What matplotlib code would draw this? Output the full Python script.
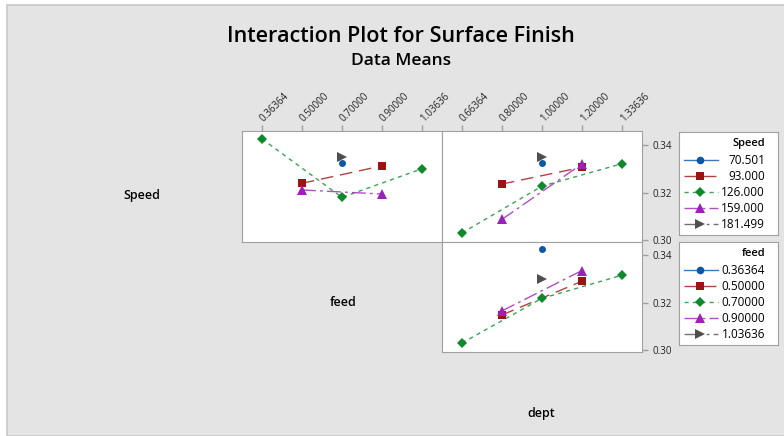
import numpy as np
import matplotlib.pyplot as plt
from matplotlib.patches import Rectangle

plt.rcParams["font.family"] = ["Open Sans", "DejaVu Sans"]

# factor levels
speed_levels = ["70.501", "93.000", "126.000", "159.000", "181.499"]
feed_levels = ["0.36364", "0.50000", "0.70000", "0.90000", "1.03636"]
dept_levels = ["0.66364", "0.80000", "1.00000", "1.20000", "1.33636"]

nan = np.nan
# mean surface finish: rows = trace factor level, cols = x factor level
means_speed_by_feed = np.array([
    [nan, nan, 0.3323, nan, nan],
    [nan, 0.3239, nan, 0.3312, nan],
    [0.3425, nan, 0.3180, nan, 0.3300],
    [nan, 0.3211, nan, 0.3194, nan],
    [nan, nan, 0.3348, nan, nan],
])
means_speed_by_dept = np.array([
    [nan, nan, 0.3323, nan, nan],
    [nan, 0.3236, nan, 0.3306, nan],
    [0.3031, nan, 0.3227, nan, 0.3321],
    [nan, 0.3088, nan, 0.3320, nan],
    [nan, nan, 0.3348, nan, nan],
])
means_feed_by_dept = np.array([
    [nan, nan, 0.3425, nan, nan],
    [nan, 0.3149, nan, 0.3291, nan],
    [0.3031, nan, 0.3219, nan, 0.3316],
    [nan, 0.3166, nan, 0.3336, nan],
    [nan, nan, 0.3301, nan, nan],
])

colors = ["#0b56a8", "#9a1414", "#0e8a2c", "#9b22b8", "#4f4f4f"]
markers = ["o", "s", "D", "^", ">"]
msizes = [5, 5.5, 5, 6.5, 6.5]
styles = ["-", (0, (9, 5)), (0, (3, 3)), (0, (10, 3, 2, 3)), (0, (8, 3, 2, 3, 2, 3))]
frame_gray = "#a0a0a0"

W, H = 784, 436
fig = plt.figure(figsize=(W / 100, H / 100), dpi=100)
fig.patch.set_facecolor("white")
fig.add_artist(Rectangle((7 / W, 0), 1, 1 - 5 / H, transform=fig.transFigure,
                         facecolor="#e4e4e4", edgecolor="#c8c8c8", lw=1.2, zorder=-10))


def px_axes(x0, y0, x1, y1):
    return fig.add_axes([x0 / W, 1 - y1 / H, (x1 - x0) / W, (y1 - y0) / H])


def draw_panel(ax, means):
    for i, row in enumerate(means):
        pos = np.arange(len(row))
        ok = ~np.isnan(row)
        ax.plot(pos[ok], row[ok], color=colors[i], ls=styles[i], lw=1.0, alpha=0.8)
        ax.plot(pos[ok], row[ok], ls="none", color=colors[i],
                marker=markers[i], ms=msizes[i], markeredgewidth=0)
    ax.set_xlim(-0.5, 4.5)
    ax.set_ylim(0.2993, 0.3456)
    for s in ax.spines.values():
        s.set_color(frame_gray)
    ax.tick_params(colors=frame_gray, labelcolor="#222222", labelsize=7, length=4, width=1)


ax_tl = px_axes(242, 131.5, 442, 242)
ax_tr = px_axes(442, 131.5, 642, 242)
ax_br = px_axes(442, 242, 642, 352)

draw_panel(ax_tl, means_speed_by_feed)
draw_panel(ax_tr, means_speed_by_dept)
draw_panel(ax_br, means_feed_by_dept)

for ax, labels in [(ax_tl, feed_levels), (ax_tr, dept_levels)]:
    ax.xaxis.tick_top()
    ax.set_xticks(range(5))
    ax.set_xticklabels(labels, rotation=45, ha="left", va="center", rotation_mode="anchor")
    ax.tick_params(axis="x", pad=4)
ax_tl.set_yticks([])
ax_br.set_xticks([])
yt = [0.30, 0.32, 0.34]
for ax in (ax_tr, ax_br):
    ax.yaxis.tick_right()
    ax.set_yticks(yt)
    ax.set_yticklabels([f"{v:.2f}" for v in yt])

# diagonal factor names
fig.text(142 / W, 1 - 195 / H, "Speed", ha="center", va="center", fontsize=9, weight="semibold")
fig.text(343 / W, 1 - 303 / H, "feed", ha="center", va="center", fontsize=9, weight="semibold")
fig.text(541 / W, 1 - 413 / H, "dept", ha="center", va="center", fontsize=9, weight="semibold")

fig.text(401 / W, 1 - 37 / H, "Interaction Plot for Surface Finish", ha="center", va="center",
         fontsize=15.5, weight="semibold")
fig.text(401 / W, 1 - 61 / H, "Data Means", ha="center", va="center", fontsize=12.5, weight="semibold")


def draw_legend(x0, y0, title, labels):
    lg = px_axes(x0, y0, x0 + 99, y0 + 103)
    lg.set_xlim(0, 99)
    lg.set_ylim(103, 0)
    lg.set_xticks([])
    lg.set_yticks([])
    for s in lg.spines.values():
        s.set_color(frame_gray)
    lg.text(86, 11, title, ha="right", va="center", fontsize=8, weight="semibold")
    for i, lab in enumerate(labels):
        y = 28 + 16 * i
        lg.plot([5, 39], [y, y], color=colors[i], ls=styles[i], lw=1.0, alpha=0.8)
        lg.plot([21], [y], color=colors[i], marker=markers[i], ms=msizes[i] + 0.5, markeredgewidth=0)
        lg.text(86, y, lab, ha="right", va="center", fontsize=8.5)


draw_legend(679, 132, "Speed", speed_levels)
draw_legend(679, 242, "feed", feed_levels)

fig.savefig("out.png", dpi=100)
